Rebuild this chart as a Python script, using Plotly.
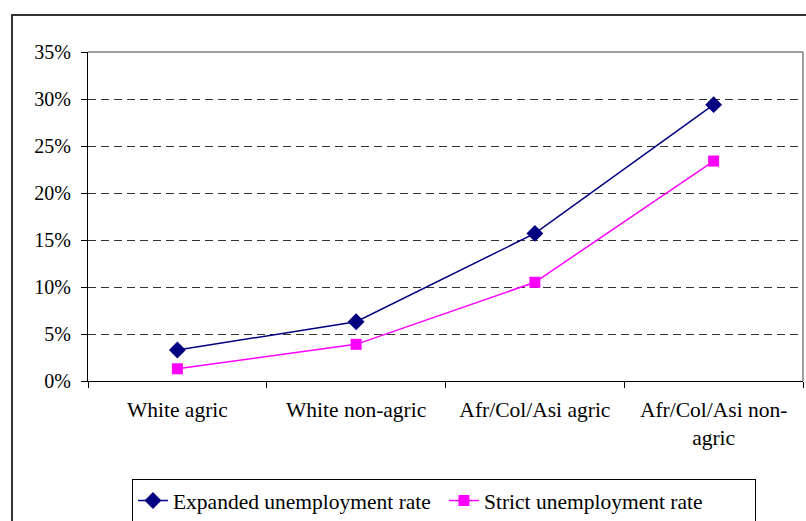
import plotly.graph_objects as go

categories = ["White agric", "White non-agric", "Afr/Col/Asi agric", "Afr/Col/Asi non-<br>agric"]
expanded = [3.3, 6.3, 15.7, 29.4]
strict = [1.3, 3.9, 10.5, 23.4]
y_ticks = [0, 5, 10, 15, 20, 25, 30, 35]
y_tick_labels = [f"{v}%" for v in y_ticks]

FONT = "'Times New Roman', 'Liberation Serif', 'DejaVu Serif', serif"

fig = go.Figure()
fig.add_trace(go.Scatter(
    x=categories, y=expanded, mode="lines+markers",
    name="Expanded unemployment rate",
    line=dict(color="#000080", width=1.5),
    marker=dict(symbol="diamond", size=13, color="#000080"),
))
fig.add_trace(go.Scatter(
    x=categories, y=strict, mode="lines+markers",
    name="Strict unemployment rate",
    line=dict(color="#FF00FF", width=1.5),
    marker=dict(symbol="square", size=11, color="#FF00FF"),
))

fig.update_layout(
    width=806, height=521,
    margin=dict(l=88, r=3, t=52, b=140, autoexpand=False),
    paper_bgcolor="white", plot_bgcolor="white",
    font=dict(family=FONT, size=20, color="black"),
    showlegend=True,
    legend=dict(
        orientation="h", x=0.0615, xanchor="left", y=-0.298, yanchor="top",
        bordercolor="black", borderwidth=1, bgcolor="white",
        font=dict(family=FONT, size=21.5, color="black"),
        itemwidth=30, tracegroupgap=0, entrywidth=266,
    ),
    xaxis=dict(
        type="category", tickson="boundaries", ticks="outside", ticklen=6,
        tickcolor="black", showline=True, linecolor="black", linewidth=1,
        showgrid=False, range=[-0.5, 3.5], tickangle=0, ticklabelstandoff=9,
        automargin=False,
        tickfont=dict(family=FONT, size=21.5, color="black"),
    ),
    yaxis=dict(
        range=[0, 35], tickvals=y_ticks, ticktext=y_tick_labels,
        ticks="outside", ticklen=6, tickcolor="black",
        showline=True, linecolor="black", linewidth=1,
        showgrid=True, gridcolor="#333333", gridwidth=1, griddash="8px,5px",
        zeroline=False, ticklabelstandoff=6, automargin=False,
        tickfont=dict(family=FONT, size=20, color="black"),
    ),
    shapes=[
        dict(type="line", xref="paper", yref="paper", x0=0, x1=1, y0=1, y1=1,
             line=dict(color="#808080", width=1.5), layer="above"),
        dict(type="line", xref="paper", yref="paper", x0=1, x1=1, y0=0, y1=1,
             line=dict(color="#808080", width=1.5), layer="above"),
        dict(type="rect", xref="paper", yref="paper", x0=-0.1063, x1=1.02,
             y0=-0.6, y1=1.1125, line=dict(color="#333333", width=2),
             fillcolor="rgba(0,0,0,0)", layer="below"),
    ],
)

fig.write_html("out.html", config={"displayModeBar": False},
               post_script="document.body.style.margin='0';document.body.style.overflow='hidden';")
